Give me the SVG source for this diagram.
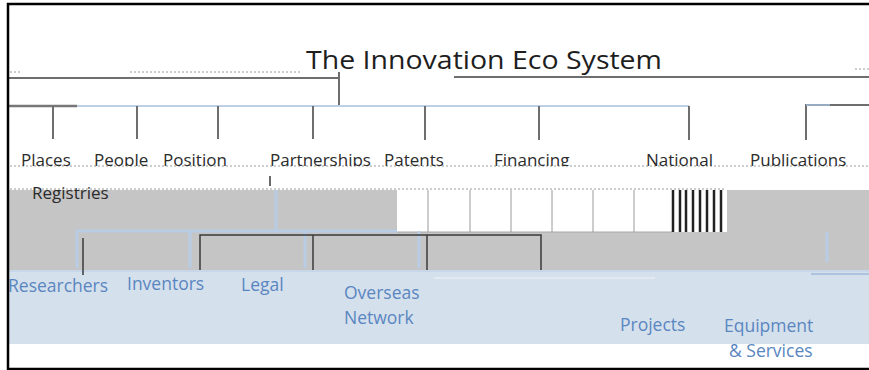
<svg xmlns="http://www.w3.org/2000/svg" width="869" height="370" viewBox="0 0 869 370">
<defs>
<style>
.t1{font-family:"Open Sans","Liberation Sans",sans-serif;font-size:17px;fill:#2b2b2b}
.tb{font-family:"Open Sans","Liberation Sans",sans-serif;font-size:17.5px;fill:#5a86c0}
.dk{stroke:#6e6e6e;stroke-width:2;fill:none}
.bk{stroke:#3a3a3a;stroke-width:1.5;fill:none}
.lb{stroke:#b8cce4;stroke-width:3;fill:none}
.dot{stroke:#9a9a9a;stroke-width:1;stroke-dasharray:2 2;fill:none}
</style>
<clipPath id="cl1"><rect x="0" y="0" width="869" height="166"/></clipPath>
</defs>
<rect x="0" y="0" width="869" height="370" fill="#ffffff"/>
<!-- bands -->
<rect x="8" y="190" width="389" height="42" fill="#c5c5c5"/>
<rect x="727" y="190" width="142" height="42" fill="#c5c5c5"/>
<rect x="8" y="232" width="861" height="38" fill="#c5c5c5"/>
<rect x="8" y="270" width="861" height="74" fill="#d5e0ed"/>
<line x1="397" y1="232" x2="672" y2="232" stroke="#a8a8a8" stroke-width="1"/>
<g stroke="#9a9a9a" stroke-width="1">
<line x1="428" y1="190" x2="428" y2="232"/>
<line x1="470" y1="190" x2="470" y2="232"/>
<line x1="511" y1="190" x2="511" y2="232"/>
<line x1="552" y1="190" x2="552" y2="232"/>
<line x1="593" y1="190" x2="593" y2="232"/>
<line x1="634" y1="190" x2="634" y2="232"/>
</g>
<g stroke="#222" stroke-width="2.5">
<line x1="673" y1="190" x2="673" y2="232"/>
<line x1="680" y1="190" x2="680" y2="232"/>
<line x1="686" y1="190" x2="686" y2="232"/>
<line x1="693" y1="190" x2="693" y2="232"/>
<line x1="700" y1="190" x2="700" y2="232"/>
<line x1="707" y1="190" x2="707" y2="232"/>
<line x1="714" y1="190" x2="714" y2="232"/>
<line x1="721" y1="190" x2="721" y2="232"/>
</g>
<line x1="434" y1="278" x2="655" y2="278" stroke="#e6ecf4" stroke-width="1.5"/>
<line x1="8" y1="271" x2="869" y2="271" stroke="#c3d3e8" stroke-width="1.5"/>
<!-- connectors -->
<g id="connectors">
<line x1="8" y1="78" x2="339" y2="78" class="dk" stroke-width="1.5"/>
<line x1="454" y1="77" x2="869" y2="77" class="dk" stroke-width="1.5"/>
<line x1="339" y1="72" x2="339" y2="105" class="dk"/>
<line x1="8" y1="106" x2="77" y2="106" stroke="#777" stroke-width="2.5"/>
<line x1="77" y1="106" x2="689" y2="106" stroke="#a9c0dd" stroke-width="1.5"/>
<line x1="53" y1="106" x2="53" y2="139" class="dk"/>
<line x1="137" y1="106" x2="137" y2="139" class="dk"/>
<line x1="218" y1="106" x2="218" y2="139" class="dk"/>
<line x1="313" y1="106" x2="313" y2="139" class="dk"/>
<line x1="425" y1="106" x2="425" y2="140" class="dk"/>
<line x1="539" y1="106" x2="539" y2="140" class="dk"/>
<line x1="689" y1="106" x2="689" y2="140" class="dk"/>
<path d="M806 140 V105 H869" class="dk"/>
<line x1="806" y1="105" x2="830" y2="105" stroke="#a9c0dd" stroke-width="1.5"/>
<line x1="270" y1="176" x2="270" y2="186" class="bk"/>
<line x1="276" y1="190" x2="276" y2="231" class="lb" stroke-width="2"/>
<path d="M77 268 V231 H397" class="lb"/>
<line x1="190" y1="231" x2="190" y2="268" class="lb"/>
<line x1="305" y1="231" x2="305" y2="268" class="lb"/>
<line x1="419" y1="231" x2="419" y2="268" class="lb"/>
<line x1="827" y1="232" x2="827" y2="262" class="lb" stroke-width="2"/>
<line x1="83" y1="238" x2="83" y2="275" class="bk"/>
<path d="M200 270 V235 H541 V270" class="bk"/>
<line x1="313" y1="235" x2="313" y2="270" class="bk"/>
<line x1="427" y1="235" x2="427" y2="270" class="bk"/>
<line x1="811" y1="274" x2="869" y2="274" stroke="#9fb8d8" stroke-width="1.5"/>
</g>
<!-- dotted noise lines -->
<line x1="10" y1="72" x2="22" y2="72" class="dot"/>
<line x1="130" y1="72" x2="300" y2="72" class="dot"/>
<line x1="855" y1="69" x2="869" y2="69" class="dot"/>
<line x1="10" y1="166" x2="869" y2="166" class="dot"/>
<line x1="10" y1="189" x2="725" y2="189" class="dot"/>
<!-- nodes -->
<g id="title"><text x="306" y="69" font-family="'Open Sans','Liberation Sans',sans-serif" font-size="26" fill="#1e1e1e" textLength="356" lengthAdjust="spacingAndGlyphs">The Innovation Eco System</text></g>
<g clip-path="url(#cl1)">
<g id="places"><text class="t1" x="21" y="166">Places</text></g>
<g id="people"><text class="t1" x="94" y="166">People</text></g>
<g id="position"><text class="t1" x="163" y="166">Position</text></g>
<g id="partnerships"><text class="t1" x="270" y="166">Partnerships</text></g>
<g id="patents"><text class="t1" x="384" y="166">Patents</text></g>
<g id="financing"><text class="t1" x="494" y="166">Financing</text></g>
<g id="national"><text class="t1" x="646" y="166">National</text></g>
<g id="publications"><text class="t1" x="750" y="166">Publications</text></g>
</g>
<g id="registries"><text class="t1" x="32" y="199">Registries</text></g>
<g id="researchers"><text class="tb" x="8" y="292">Researchers</text></g>
<g id="inventors"><text class="tb" x="127" y="290">Inventors</text></g>
<g id="legal"><text class="tb" x="241" y="291">Legal</text></g>
<g id="overseas-network"><text class="tb" x="344" y="299">Overseas</text><text class="tb" x="344" y="324">Network</text></g>
<g id="projects"><text class="tb" x="620" y="331">Projects</text></g>
<g id="equipment-services"><text class="tb" x="724" y="332">Equipment</text><text class="tb" x="729" y="357">&amp; Services</text></g>
<!-- frame -->
<path d="M869 4 H8 V369 H869" fill="none" stroke="#000" stroke-width="2.5"/>
</svg>
